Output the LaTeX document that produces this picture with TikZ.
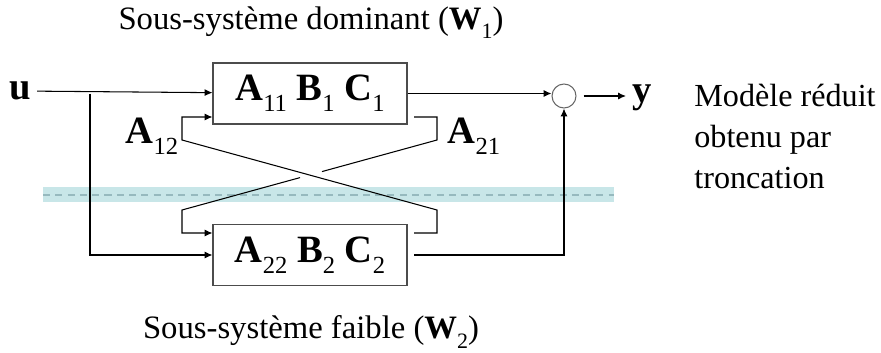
\documentclass[tikz,border=0pt]{standalone}
\usepackage{fontspec}
\setmainfont{Liberation Serif}
\usetikzlibrary{arrows.meta,calc}
\definecolor{bandfill}{RGB}{200,230,232}
\definecolor{banddash}{RGB}{150,185,190}
\newcommand{\subidx}[2][14]{\raisebox{-0.28em}{\fontsize{#1}{#1}\selectfont\mdseries #2}}

\begin{document}
\begin{tikzpicture}[x=0.02cm,y=-0.02cm,line width=0.6pt,
  >={Latex[length=4.5pt,width=4pt]},
  font=\fontsize{18.6}{22}\selectfont,
  blockbox/.style={draw=black!70,minimum width=3.88cm,minimum height=1.22cm,inner sep=0pt,font=\fontsize{22}{24}\selectfont\bfseries},
  sumnode/.style={circle,draw=black!60,minimum size=0.48cm,inner sep=0pt},
  lbl/.style={font=\fontsize{22}{24}\selectfont\bfseries}]
\useasboundingbox (0,0) rectangle (881,352);
% truncation band
\fill[bandfill] (43,187) rectangle (614,202);
\draw[banddash,dash pattern=on 4pt off 3pt] (43,195) -- (614,195);
% blocks
\node[blockbox] (w1) at (310,93.5) {A\subidx{11} B\subidx{1} C\subidx{1}};
\node[blockbox] (w2) at (310,255) {A\subidx{22} B\subidx{2} C\subidx{2}};
\node (t1) at (311,23) {Sous-système dominant (\textbf{W}\subidx[12.5]{1})};
\node (t2) at (311,332) {Sous-système faible (\textbf{W}\subidx[12.5]{2})};
% input and output
\node[lbl] (u) at (20,91) {u};
\node[sumnode] (sum) at (564,96) {};
\node[lbl] (y) at (642,98) {y};
\node[anchor=north west,align=left,font=\fontsize{18.3}{23.4}\selectfont] (note) at (688,78) {Modèle réduit\\obtenu par\\troncation};
\coordinate (split) at (90,93.5);
\draw[->] (u) -- (w1);
\draw[->] (split) |- (w2.west);
\draw[->] (w1.east) -- (sum.west |- w1.east);
\coordinate (o2) at (414,255);
\draw[->] (o2) -| (sum.south);
\draw[->] ([xshift=0.14cm]sum.east) -- (y.west |- sum.east);
% coupling terms
\coordinate (a12out) at (414,233);
\coordinate (a12r) at (437,210);
\coordinate (a12l) at (182,140);
\coordinate (a21out) at (414,117);
\coordinate (a21r) at (437,140);
\coordinate (a21l) at (182,210);
\draw[->] (a12out) -| (a12r) -- (a12l) |- (w1.west |- a21out);
\draw (a21out) -| (a21r) -- ($(a21r)!0.451!(a21l)$);
\draw[->] ($(a21r)!0.537!(a21l)$) -- (a21l) |- (w2.west |- a12out);
\node[lbl] (l12) at (152,136) {A\subidx{12}};
\node[lbl] (l21) at (474,136) {A\subidx{21}};
\end{tikzpicture}
\end{document}
